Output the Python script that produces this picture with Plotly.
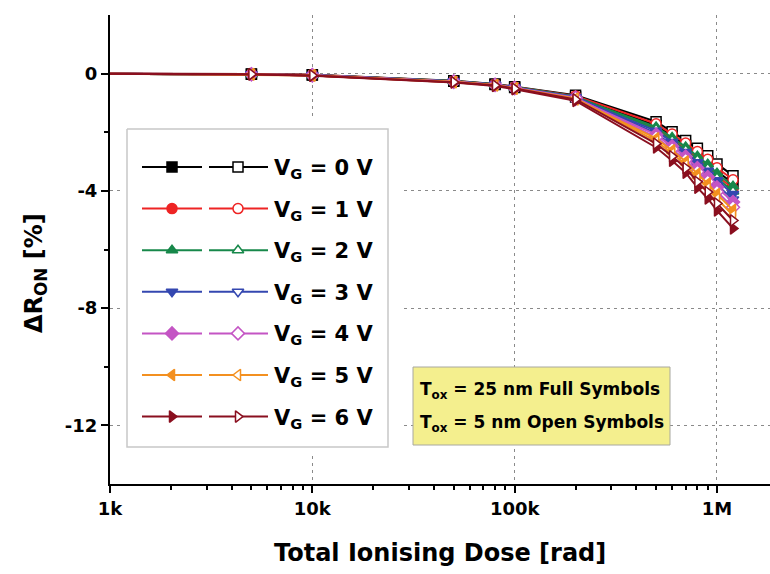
import plotly.graph_objects as go

# Total ionising dose steps [rad]
dose_rad = [1e3, 5e3, 1e4, 5e4, 8e4, 1e5, 2e5, 5e5, 6e5, 7e5, 8e5, 9e5, 1e6, 1.2e6]

# Gate bias during irradiation [V]
gate_voltage = [0, 1, 2, 3, 4, 5, 6]

# Relative change of on-resistance [%], one row per gate voltage
delta_ron_tox25 = [  # 25 nm gate oxide (full symbols)
    [0.0, -0.02, -0.05, -0.26, -0.37, -0.47, -0.80, -1.77, -2.13, -2.45, -2.75, -3.02, -3.32, -3.75],
    [0.0, -0.02, -0.05, -0.27, -0.38, -0.48, -0.82, -1.86, -2.23, -2.56, -2.89, -3.17, -3.48, -3.93],
    [0.0, -0.02, -0.05, -0.26, -0.37, -0.48, -0.81, -1.82, -2.18, -2.50, -2.82, -3.09, -3.40, -3.84],
    [0.0, -0.02, -0.06, -0.27, -0.38, -0.49, -0.84, -1.95, -2.33, -2.67, -3.02, -3.31, -3.64, -4.11],
    [0.0, -0.02, -0.06, -0.28, -0.39, -0.50, -0.86, -2.08, -2.48, -2.83, -3.22, -3.53, -3.88, -4.38],
    [0.0, -0.03, -0.06, -0.29, -0.40, -0.51, -0.88, -2.21, -2.62, -3.00, -3.42, -3.75, -4.11, -4.65],
    [0.0, -0.03, -0.07, -0.30, -0.42, -0.53, -0.93, -2.52, -2.97, -3.38, -3.89, -4.26, -4.67, -5.28],
]
delta_ron_tox5 = [  # 5 nm gate oxide (open symbols)
    [0.0, -0.01, -0.04, -0.24, -0.35, -0.45, -0.74, -1.64, -1.98, -2.28, -2.55, -2.80, -3.08, -3.48],
    [0.0, -0.01, -0.04, -0.25, -0.36, -0.46, -0.76, -1.71, -2.06, -2.37, -2.66, -2.92, -3.21, -3.62],
    [0.0, -0.02, -0.05, -0.25, -0.36, -0.46, -0.78, -1.90, -2.28, -2.61, -2.95, -3.24, -3.56, -4.02],
    [0.0, -0.02, -0.05, -0.26, -0.37, -0.47, -0.80, -2.04, -2.43, -2.78, -3.15, -3.46, -3.80, -4.29],
    [0.0, -0.02, -0.05, -0.27, -0.38, -0.48, -0.82, -2.17, -2.57, -2.94, -3.35, -3.68, -4.03, -4.56],
    [0.0, -0.02, -0.06, -0.28, -0.39, -0.50, -0.85, -2.30, -2.72, -3.11, -3.56, -3.90, -4.27, -4.83],
    [0.0, -0.02, -0.06, -0.29, -0.40, -0.51, -0.88, -2.39, -2.82, -3.22, -3.69, -4.04, -4.43, -5.01],
]

x_tick_vals = [1e3, 1e4, 1e5, 1e6]
x_tick_text = ["1k", "10k", "100k", "1M"]
y_tick_vals = [0, -4, -8, -12]
y_tick_text = ["0", "-4", "-8", "-12"]
y_minor_vals = [-2, -6, -10]

colors = ["#000000", "#ee2424", "#17884a", "#3447b0", "#c455c4", "#f39020", "#8a0f1f"]
symbols = ["square", "circle", "triangle-up", "triangle-down", "diamond",
           "triangle-left", "triangle-right"]

# ---- page geometry (pixels) ----
W, H = 770, 574
ML, MR, MT, MB = 110, 0, 15, 90
PW, PH = W - ML - MR, H - MT - MB
X_RANGE = [3, 6.262]
Y_RANGE = [-14, 2]
FONT = "DejaVu Sans"


def px_x(px):
    return (px - ML) / PW


def px_y(py):
    return (H - MB - py) / PH


x_minor = [m * 10 ** e for e in range(3, 7) for m in range(2, 10)]

fig = go.Figure()

for i, v in enumerate(gate_voltage):
    for series, fill in ((delta_ron_tox25, colors[i]), (delta_ron_tox5, "white")):
        fig.add_trace(go.Scatter(
            x=dose_rad, y=series[i], mode="lines+markers",
            line=dict(color=colors[i], width=2),
            marker=dict(symbol=symbols[i], size=10, color=fill,
                        line=dict(color=colors[i], width=1.5)),
            cliponaxis=False, showlegend=False, hoverinfo="skip",
        ))

# ---- legend panel drawn on its own small pixel-scaled subplot ----
BOX = (127, 388, 129, 447)          # left, right, top, bottom
AX = (120, 400, 120, 455)
ROW0, ROW_STEP = 167, 41.6
SAMPLE_A = (142, 202, 172)          # line start, line end, marker position
SAMPLE_B = (209, 268, 238)
TEXT_X = 272

fig.add_trace(go.Scatter(
    x=[BOX[0], BOX[1], BOX[1], BOX[0], BOX[0]],
    y=[BOX[2], BOX[2], BOX[3], BOX[3], BOX[2]],
    mode="lines", fill="toself", fillcolor="white",
    line=dict(color="#c8c8c8", width=1.5),
    xaxis="x3", yaxis="y3", showlegend=False, hoverinfo="skip",
))

annotations = []
for i, v in enumerate(gate_voltage):
    ry = ROW0 + i * ROW_STEP
    for (x0, x1, xm), fill in ((SAMPLE_A, colors[i]), (SAMPLE_B, "white")):
        fig.add_trace(go.Scatter(
            x=[x0, x1], y=[ry, ry], mode="lines",
            line=dict(color=colors[i], width=2),
            xaxis="x3", yaxis="y3", showlegend=False, hoverinfo="skip",
        ))
        fig.add_trace(go.Scatter(
            x=[xm], y=[ry], mode="markers",
            marker=dict(symbol=symbols[i], size=10, color=fill,
                        line=dict(color=colors[i], width=1.5)),
            xaxis="x3", yaxis="y3", showlegend=False, hoverinfo="skip",
        ))
    annotations.append(dict(
        x=TEXT_X, y=ry + 2, xref="x3", yref="y3", xanchor="left", yanchor="middle",
        text=f"V<sub>G</sub> = {v} V", showarrow=False,
        font=dict(family=FONT, size=21, color="black", weight="bold"),
    ))

# ---- oxide thickness note ----
NOTE = (413, 670, 367, 445)
annotations.append(dict(
    x=px_x(418), y=px_y(390), xref="paper", yref="paper", xanchor="left", yanchor="middle",
    text="T<sub>ox</sub> = 25 nm Full Symbols", showarrow=False,
    font=dict(family=FONT, size=17, color="black", weight="bold"),
))
annotations.append(dict(
    x=px_x(418), y=px_y(423), xref="paper", yref="paper", xanchor="left", yanchor="middle",
    text="T<sub>ox</sub> = 5 nm Open Symbols", showarrow=False,
    font=dict(family=FONT, size=17, color="black", weight="bold"),
))

# ---- axis titles ----
annotations.append(dict(
    x=0.5, y=px_y(553), xref="paper", yref="paper", xanchor="center", yanchor="middle",
    text="Total Ionising Dose [rad]", showarrow=False,
    font=dict(family=FONT, size=24, color="black", weight="bold"),
))
annotations.append(dict(
    x=px_x(35), y=px_y(273), xref="paper", yref="paper", xanchor="center", yanchor="middle",
    text="ΔR<sub>ON</sub> [%]", textangle=-90, showarrow=False,
    font=dict(family=FONT, size=24, color="black", weight="bold"),
))

tick_font = dict(family=FONT, size=18, color="black", weight="bold")
grid = dict(showgrid=True, gridcolor="#8a8a8a", gridwidth=1.3, griddash="3px,4px")
hidden_axis = dict(showticklabels=False, ticks="", showline=False, showgrid=False,
                   zeroline=False, tickvals=[], fixedrange=True)

fig.update_layout(
    width=W, height=H,
    margin=dict(l=ML, r=MR, t=MT, b=MB, pad=0),
    paper_bgcolor="white", plot_bgcolor="white",
    showlegend=False,
    annotations=annotations,
    shapes=[dict(
        type="rect", xref="paper", yref="paper", layer="above",
        x0=px_x(NOTE[0]), x1=px_x(NOTE[1]), y0=px_y(NOTE[3]), y1=px_y(NOTE[2]),
        fillcolor="#f4ef8e", line=dict(color="#a8a8a0", width=1),
    )],
    xaxis=dict(
        type="log", range=X_RANGE, domain=[0, 1], anchor="y",
        tickvals=x_tick_vals, ticktext=x_tick_text, tickfont=tick_font,
        ticks="outside", ticklen=7, tickwidth=2, tickcolor="black",
        showline=True, linecolor="black", linewidth=2, zeroline=False,
        minor=dict(tickvals=x_minor, ticks="outside", ticklen=4, tickwidth=1.5,
                   tickcolor="black", showgrid=False),
        fixedrange=True, **grid,
    ),
    xaxis2=dict(
        type="log", range=X_RANGE, overlaying="x", side="top", anchor="y",
        tickvals=x_tick_vals, ticktext=["", "", "", ""], showticklabels=False,
        ticks="inside", ticklen=8, tickwidth=2, tickcolor="black",
        showline=True, linecolor="black", linewidth=2, showgrid=False, zeroline=False,
        minor=dict(tickvals=x_minor, ticks="inside", ticklen=5, tickwidth=1.5,
                   tickcolor="black", showgrid=False),
        fixedrange=True,
    ),
    yaxis=dict(
        range=Y_RANGE, domain=[0, 1], anchor="x",
        tickvals=y_tick_vals, ticktext=y_tick_text, tickfont=tick_font,
        ticks="outside", ticklen=7, tickwidth=2, tickcolor="black",
        showline=True, linecolor="black", linewidth=2, zeroline=False,
        minor=dict(tickvals=y_minor_vals, ticks="outside", ticklen=4, tickwidth=1.5,
                   tickcolor="black", showgrid=False),
        fixedrange=True, **grid,
    ),
    xaxis3=dict(domain=[px_x(AX[0]), px_x(AX[1])], range=[AX[0], AX[1]],
                anchor="y3", **hidden_axis),
    yaxis3=dict(domain=[px_y(AX[3]), px_y(AX[2])], range=[AX[3], AX[2]],
                anchor="x3", **hidden_axis),
)

fig.write_html("out.html")
